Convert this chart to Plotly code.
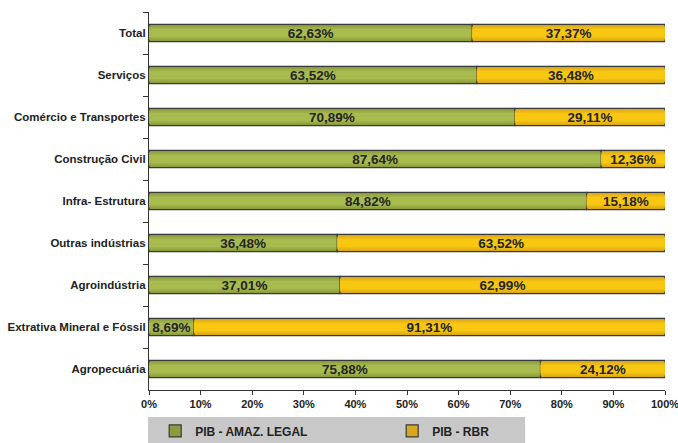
import plotly.graph_objects as go

# Sectors, listed top to bottom
categories = [
    "Total",
    "Serviços",
    "Comércio e Transportes",
    "Construção Civil",
    "Infra- Estrutura",
    "Outras indústrias",
    "Agroindústria",
    "Extrativa Mineral e Fóssil",
    "Agropecuária",
]
amaz_legal = [62.63, 63.52, 70.89, 87.64, 84.82, 36.48, 37.01, 8.69, 75.88]
rbr = [37.37, 36.48, 29.11, 12.36, 15.18, 63.52, 62.99, 91.31, 24.12]
x_ticks = [0, 10, 20, 30, 40, 50, 60, 70, 80, 90, 100]
x_tick_labels = [f"{v}%" for v in x_ticks]

EDGE = "#3a3a3a"
TXT = "#242424"
# shaded layers (outer -> inner) give each bar a rounded, tube-like look
GREEN_LAYERS = [("#8b9b3f", 0.41), ("#9aad46", 0.31), ("#a8bb4f", 0.2)]
YELLOW_LAYERS = [("#d8a81c", 0.41), ("#ebb915", 0.31), ("#f8c711", 0.2)]

fig = go.Figure()


def add_series(name, values, bases, layers):
    for i, (color, width) in enumerate(layers):
        outer = i == 0
        inner = i == len(layers) - 1
        fig.add_trace(go.Bar(
            y=categories, x=values, base=bases, orientation="h", name=name,
            width=width, showlegend=outer, legendgroup=name,
            marker=dict(color=color,
                        line=dict(color=EDGE, width=1.2 if outer else 0)),
            texttemplate="%{x:.2f}%" if inner else None,
            textposition="inside" if inner else "none",
            insidetextanchor="middle", constraintext="none",
            textfont=dict(family="Liberation Sans", size=13.5, color=TXT, weight="bold"),
            hoverinfo="skip" if not outer else None,
        ))


add_series("PIB - AMAZ. LEGAL", amaz_legal, [0] * len(amaz_legal), GREEN_LAYERS)
add_series("PIB - RBR", rbr, amaz_legal, YELLOW_LAYERS)

# grey strip behind the legend
fig.add_shape(type="rect", xref="paper", yref="paper",
              x0=-0.002, x1=0.729, y0=-0.1402, y1=-0.0714,
              fillcolor="#c8c8c8", line=dict(width=0), layer="below")

fig.update_layout(
    width=678, height=443,
    margin=dict(l=149, r=13, t=12, b=53, autoexpand=False),
    paper_bgcolor="white", plot_bgcolor="white",
    barmode="overlay",
    separators=",.",
    font=dict(family="Liberation Sans", color="#222"),
    showlegend=True,
    legend=dict(
        orientation="h", x=0.012, y=-0.07, xanchor="left", yanchor="top",
        bgcolor="rgba(0,0,0,0)",
        entrywidth=192, entrywidthmode="pixels",
        font=dict(family="Liberation Sans", size=12, color="#222", weight="bold"),
        traceorder="normal",
    ),
    xaxis=dict(
        range=[0, 100], tickvals=x_ticks, ticktext=x_tick_labels,
        showgrid=False, zeroline=False,
        showline=True, linecolor="#333", linewidth=1.2,
        ticks="outside", ticklen=4, tickcolor="#333",
        ticklabeloverflow="allow",
        tickfont=dict(family="Liberation Sans", size=11, color="#222", weight="bold"),
    ),
    yaxis=dict(
        categoryorder="array", categoryarray=categories, autorange="reversed",
        showgrid=False, zeroline=False,
        showline=True, linecolor="#333", linewidth=1.2,
        ticks="outside", tickson="boundaries", ticklen=5, tickcolor="#333",
        tickfont=dict(family="Liberation Sans", size=11.5, color="#222", weight="bold"),
        ticklabelstandoff=0,
    ),
)

fig.write_html("out.html")
